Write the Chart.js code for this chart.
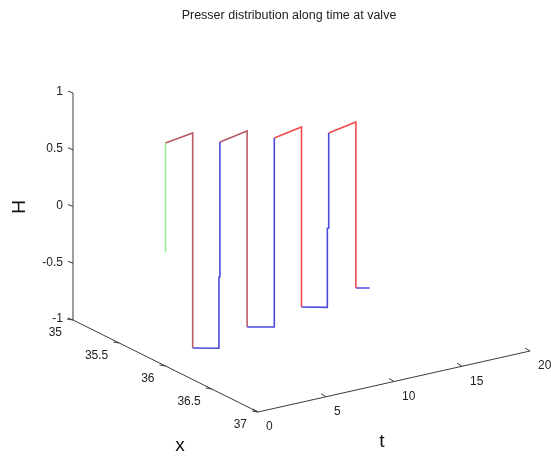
<!DOCTYPE html>
<html>
<head>
<meta charset="utf-8">
<script src="https://cdn.jsdelivr.net/npm/chart.js@4"></script>
<style>
  html, body { margin: 0; padding: 0; background: #fff; }
  canvas { display: block; }
</style>
</head>
<body>
<canvas id="valveChart" width="551" height="456"></canvas>
<script>
// head at the valve (x = 36), pieces split by colour
const valveX = 36;
const greenT = [0, 0];
const greenH = [0, 0.965];
const brown1T = [0, 2, 2];
const brown1H = [0.965, 1.0, -0.895];
const blue1T = [2, 3.93, 3.93, 4, 4];
const blue1H = [-0.895, -0.949, -0.323, -0.323, 0.866];
const brown2T = [4, 6, 6];
const brown2H = [0.866, 0.909, -0.818];
const blue2T = [6, 8, 8];
const blue2H = [-0.818, -0.871, 0.794];
const red1T = [8, 10, 10];
const red1H = [0.794, 0.837, -0.749];
const blue3T = [10, 11.9, 11.9, 12, 12];
const blue3H = [-0.749, -0.803, -0.107, -0.107, 0.730];
const red2T = [12, 14, 14];
const red2H = [0.730, 0.774, -0.689];
const blue4T = [14, 15];
const blue4H = [-0.689, -0.716];

// axis ticks
const tTicks = [0, 5, 10, 15, 20];
const xTicks = [35, 35.5, 36, 36.5, 37];
const hTicks = [-1, -0.5, 0, 0.5, 1];

// simple fixed 3d view (orthographic)
const view = {
  ox: 73, oy: 320,          // screen spot of t=0, x=35, H=-1
  xStep: [92.5, 46],        // per unit x
  tStep: [13.6, -3.05],     // per unit t
  hStep: [0, -113.5]        // per unit H
};

function project(t, x, h) {
  const dx = x - 35, dh = h + 1;
  return {
    x: view.ox + dx * view.xStep[0] + t * view.tStep[0] + dh * view.hStep[0],
    y: view.oy + dx * view.xStep[1] + t * view.tStep[1] + dh * view.hStep[1]
  };
}

function toPoints(ts, hs) {
  return ts.map((t, i) => project(t, valveX, hs[i]));
}

const GREEN = '#96ea96';
const BROWN = '#b85c66';
const RED = '#f24c4c';
const BLUE = '#4a4ade';

const pieces = [
  [greenT, greenH, GREEN],
  [brown1T, brown1H, BROWN],
  [blue1T, blue1H, BLUE],
  [brown2T, brown2H, BROWN],
  [blue2T, blue2H, BLUE],
  [red1T, red1H, RED],
  [blue3T, blue3H, BLUE],
  [red2T, red2H, RED],
  [blue4T, blue4H, BLUE]
];

const datasets = pieces.map(p => ({
  data: toPoints(p[0], p[1]),
  showLine: true,
  borderColor: p[2],
  borderWidth: 1.6,
  pointRadius: 0,
  fill: false,
  tension: 0
}));

const axes3d = {
  id: 'axes3d',
  beforeDatasetsDraw(chart) {
    const ctx = chart.ctx;
    const sx = chart.scales.x, sy = chart.scales.y;
    const px = p => ({ x: sx.getPixelForValue(p.x), y: sy.getPixelForValue(p.y) });
    const line = (a, b) => {
      ctx.beginPath();
      ctx.moveTo(a.x, a.y);
      ctx.lineTo(b.x, b.y);
      ctx.stroke();
    };
    ctx.save();
    ctx.strokeStyle = '#3a3a3a';
    ctx.lineWidth = 1;
    ctx.fillStyle = '#222';
    ctx.font = '12px "Liberation Sans", Arial, sans-serif';

    // H axis at x=35, t=0
    line(px(project(0, 35, -1)), px(project(0, 35, 1)));
    ctx.textAlign = 'right';
    ctx.textBaseline = 'middle';
    hTicks.forEach(h => {
      const p = px(project(0, 35, h));
      line(p, { x: p.x - 5, y: p.y - 2 });
      ctx.fillText(String(h), p.x - 10, p.y - 1);
    });

    // x axis at t=0, H=-1
    line(px(project(0, 35, -1)), px(project(0, 37, -1)));
    xTicks.forEach(x => {
      const p = px(project(0, x, -1));
      line(p, { x: p.x - 6, y: p.y - 1 });
      ctx.fillText(String(x), p.x - 11, p.y + 13);
    });

    // t axis at x=37, H=-1
    line(px(project(0, 37, -1)), px(project(20, 37, -1)));
    ctx.textAlign = 'left';
    tTicks.forEach(t => {
      const p = px(project(t, 37, -1));
      line(p, { x: p.x - 5, y: p.y - 3 });
      ctx.fillText(String(t), p.x + 8, p.y + 15);
    });

    // axis names
    ctx.fillStyle = '#111';
    ctx.font = '19px "Liberation Sans", Arial, sans-serif';
    ctx.textAlign = 'center';
    ctx.fillText('x', 180, 446);
    ctx.fillText('t', 382, 442);
    ctx.save();
    ctx.translate(20, 207);
    ctx.rotate(-Math.PI / 2);
    ctx.fillText('H', 0, 0);
    ctx.restore();

    // title
    ctx.fillStyle = '#222';
    ctx.font = '12.5px "Liberation Sans", Arial, sans-serif';
    ctx.fillText('Presser distribution along time at valve', 289, 16);
    ctx.restore();
  }
};

new Chart(document.getElementById('valveChart'), {
  type: 'scatter',
  data: { datasets: datasets },
  options: {
    responsive: false,
    animation: false,
    devicePixelRatio: 1,
    layout: { padding: 0 },
    plugins: { legend: { display: false }, tooltip: { enabled: false } },
    scales: {
      x: { type: 'linear', min: 0, max: 551, display: false },
      y: { type: 'linear', min: 0, max: 456, reverse: true, display: false }
    }
  },
  plugins: [axes3d]
});
</script>
</body>
</html>
